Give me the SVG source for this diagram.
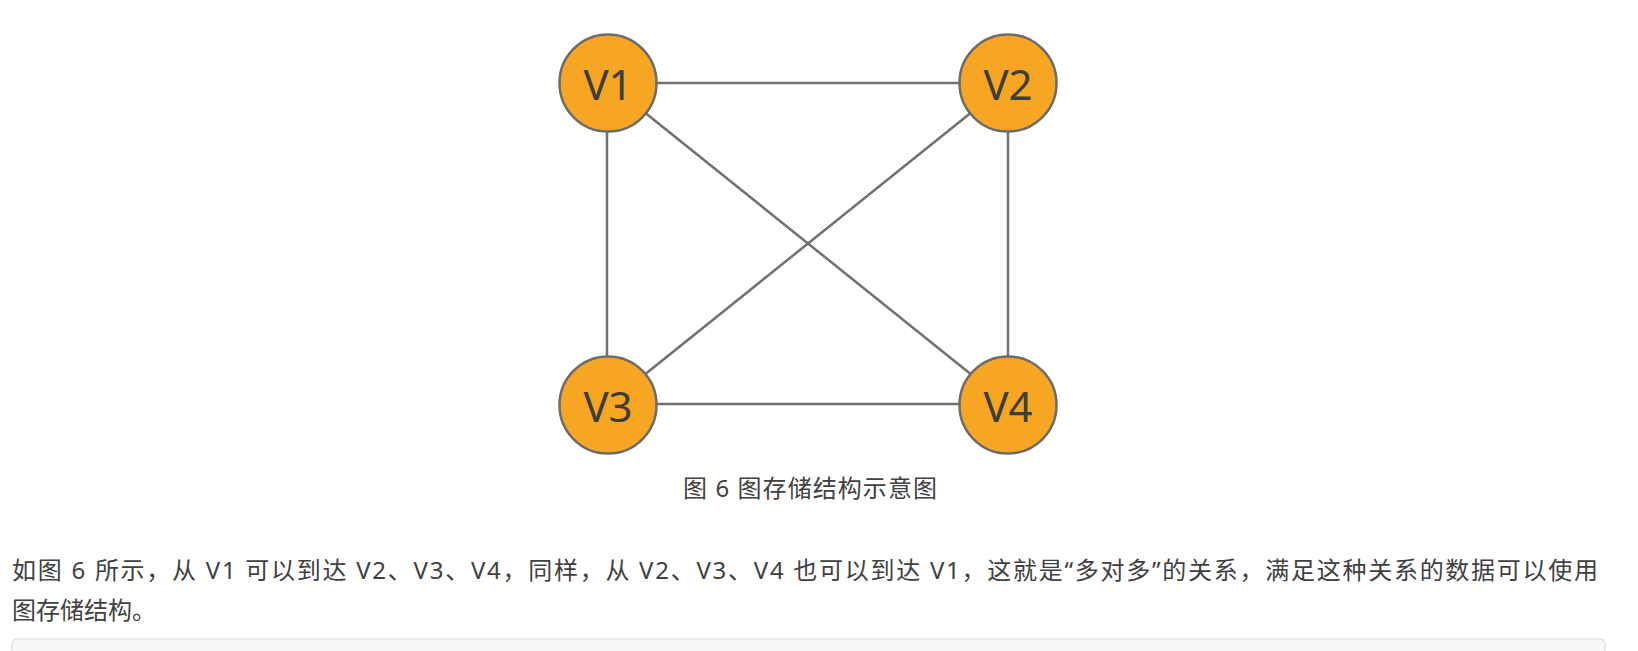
<svg xmlns="http://www.w3.org/2000/svg" width="1638" height="651" viewBox="0 0 1638 651">
<style>
.edge{stroke:#707070;stroke-width:2.5;fill:none}
.node circle{fill:#F6A623;stroke:#6b6b6b;stroke-width:2.5}
.node text{font-family:"Noto Sans","Open Sans","Liberation Sans",sans-serif;font-size:42px;fill:#3d3d3d;text-anchor:middle}
.cap{font-family:"Noto Sans","Noto Sans CJK SC",sans-serif;font-size:24px;fill:#404040}
</style>
<rect width="1638" height="651" fill="#ffffff"/>
<g id="connectors">
<line class="edge" x1="608" y1="83" x2="1008" y2="83"/>
<line class="edge" x1="608" y1="404" x2="1008" y2="404"/>
<line class="edge" x1="607" y1="83" x2="607" y2="404"/>
<line class="edge" x1="1008" y1="83" x2="1008" y2="404"/>
<line class="edge" x1="608" y1="83" x2="1008" y2="404"/>
<line class="edge" x1="1008" y1="83" x2="608" y2="404"/>
</g>
<g id="V1" class="node"><circle cx="608" cy="83" r="48.5"/><text x="608" y="100">V1</text></g>
<g id="V2" class="node"><circle cx="1008" cy="83" r="48.5"/><text x="1008" y="100">V2</text></g>
<g id="V3" class="node"><circle cx="608" cy="405" r="48.5"/><text x="608" y="422">V3</text></g>
<g id="V4" class="node"><circle cx="1008" cy="405" r="48.5"/><text x="1008" y="422">V4</text></g>
<text class="cap" x="683" y="497" textLength="254" lengthAdjust="spacing">图 6 图存储结构示意图</text>
<text class="cap" x="12" y="579" textLength="1586" lengthAdjust="spacing">如图 6 所示，从 V1 可以到达 V2、V3、V4，同样，从 V2、V3、V4 也可以到达 V1，这就是“多对多”的关系，满足这种关系的数据可以使用</text>
<text class="cap" x="12" y="619">图存储结构。</text>
<rect x="12" y="639" width="1593" height="40" rx="5" fill="#f8f8f8" stroke="#e3e3e3" stroke-width="1.5"/>
</svg>
